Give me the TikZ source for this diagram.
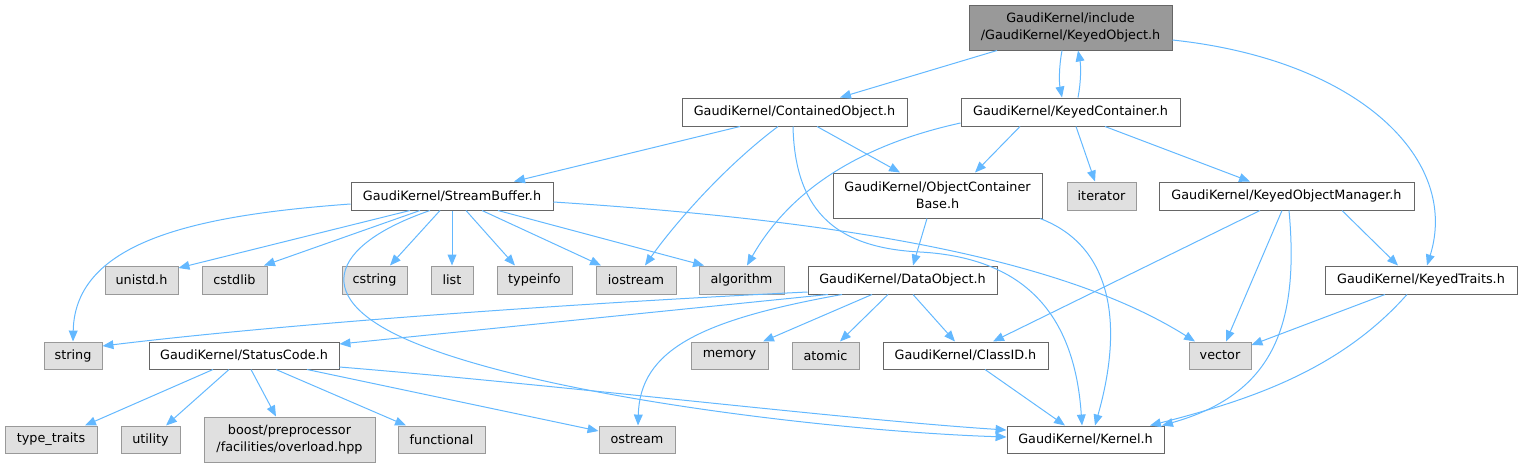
\documentclass[tikz,border=0pt]{standalone}
\usepackage{fontspec}
\setmainfont{DejaVu Sans}
\usetikzlibrary{arrows.meta,calc}
\definecolor{cA}{HTML}{666666}
\definecolor{cB}{HTML}{999999}
\definecolor{cE}{HTML}{E0E0E0}
\definecolor{eblue}{HTML}{63B8FF}
\tikzset{
 nd/.style={draw=cA, fill=white, line width=0.75pt, inner sep=0pt, align=center, font=\fontsize{9.6}{12.5}\selectfont},
 ext/.style={nd, draw=cB, fill=cE},
 mainnd/.style={nd, fill=cB, draw=cA},
 sz/.style 2 args={minimum width=#1*0.75pt, minimum height=#2*0.75pt},
 edg/.style={draw=eblue, line width=0.75pt, -{Triangle[length=8.2pt,width=6.6pt]}},
}
\begin{document}
\begin{tikzpicture}[x=0.75pt,y=-0.75pt]
\useasboundingbox (0,0) rectangle (1523,468);
% nodes
\node[mainnd, sz={203}{45}] (ko) at (1070.5,27.5) {GaudiKernel/include\\/GaudiKernel/KeyedObject.h};
\node[nd, sz={225}{28}] (co) at (794.5,112) {GaudiKernel/ContainedObject.h};
\node[nd, sz={219}{28}] (kc) at (1070.5,112) {GaudiKernel/KeyedContainer.h};
\node[nd, sz={202}{28}] (sb) at (452,196) {GaudiKernel/StreamBuffer.h};
\node[nd, sz={209}{45}] (ocb) at (937.5,195.5) {GaudiKernel/ObjectContainer\\Base.h};
\node[ext, sz={69}{28}] (iter) at (1101.5,196) {iterator};
\node[nd, sz={255}{28}] (kom) at (1286.5,196) {GaudiKernel/KeyedObjectManager.h};
\node[ext, sz={73}{28}] (unistd) at (141.5,280) {unistd.h};
\node[ext, sz={65}{28}] (cstdlib) at (234.5,280) {cstdlib};
\node[ext, sz={65}{28}] (cstring) at (374.5,280) {cstring};
\node[ext, sz={42}{28}] (list) at (452,280) {list};
\node[ext, sz={75}{28}] (typeinfo) at (534.5,280) {typeinfo};
\node[ext, sz={80}{28}] (iostream) at (636,280) {iostream};
\node[ext, sz={85}{28}] (algorithm) at (741.5,280) {algorithm};
\node[nd, sz={189}{28}] (dobj) at (902.5,280) {GaudiKernel/DataObject.h};
\node[nd, sz={192}{28}] (ktraits) at (1421,280) {GaudiKernel/KeyedTraits.h};
\node[ext, sz={58}{27}] (string) at (73,355.5) {string};
\node[nd, sz={190}{27}] (sc) at (244,355.5) {GaudiKernel/StatusCode.h};
\node[ext, sz={77}{27}] (memory) at (729.5,355.5) {memory};
\node[ext, sz={67}{27}] (atomic) at (825.5,355.5) {atomic};
\node[nd, sz={165}{27}] (classid) at (965.5,355.5) {GaudiKernel/ClassID.h};
\node[ext, sz={62}{27}] (vector) at (1220,355.5) {vector};
\node[ext, sz={92}{27}] (typetraits) at (51,439.5) {type\_traits};
\node[ext, sz={59}{27}] (utility) at (150.5,439.5) {utility};
\node[ext, sz={171}{45}] (boost) at (289.5,439.5) {boost/preprocessor\\/facilities/overload.hpp};
\node[ext, sz={87}{27}] (functional) at (441.5,439.5) {functional};
\node[ext, sz={76}{27}] (ostream) at (637,439.5) {ostream};
\node[nd, sz={157}{27}] (kernel) at (1085.5,439.5) {GaudiKernel/Kernel.h};
% edges from KeyedObject
\draw[edg] (ko.south -| 997,0) -- (co.north -| 840,0);
\draw[edg] (ko.south -| 1062,0) .. controls (1059,66) and (1059,82) .. (kc.north -| 1062,0);
\draw[edg] (kc.north -| 1078,0) .. controls (1081,82) and (1081,66) .. (ko.south -| 1078,0);
\draw[edg] (ko.east |- 0,40) .. controls (1360,60) and (1460,160) .. (ktraits.north -| 1427,0);
% ContainedObject
\draw[edg] (co.south -| 740,0) -- (sb.north -| 514,0);
\draw[edg] (co.south -| 778,0) .. controls (720,170) and (670,230) .. (iostream.north -| 645,0);
\draw[edg] (co.south -| 793,0) .. controls (795,215) and (840,248) .. (920,252) .. controls (1030,258) and (1075,320) .. (kernel.north -| 1082,0);
\draw[edg] (co.south -| 817,0) -- (ocb.north -| 900,0);
% KeyedContainer
\draw[edg] (kc.west |- 0,123) .. controls (860,145) and (790,190) .. (algorithm.north -| 747,0);
\draw[edg] (kc.south -| 1020,0) -- (ocb.north -| 975,0);
\draw[edg] (kc.south -| 1076,0) -- (iter.north -| 1095,0);
\draw[edg] (kc.south -| 1105,0) -- (kom.north -| 1250,0);
% StreamBuffer
\draw[edg] (sb.west |- 0,204) .. controls (200,215) and (75,240) .. (string.north -| 73,0);
\draw[edg] (sb.south -| 410,0) -- (unistd.east |- 0,268);
\draw[edg] (sb.south -| 420,0) -- (cstdlib.north -| 264,0);
\draw[edg] (sb.south -| 430,0) .. controls (330,245) and (305,300) .. (420,345) .. controls (560,400) and (850,432) .. (kernel.west |- 0,437);
\draw[edg] (sb.south -| 440,0) -- (cstring.north -| 390,0);
\draw[edg] (sb.south -| 452,0) -- (list.north -| 452,0);
\draw[edg] (sb.south -| 466,0) -- (typeinfo.north -| 515,0);
\draw[edg] (sb.south -| 482,0) -- (iostream.north -| 601,0);
\draw[edg] (sb.south -| 498,0) -- (algorithm.north -| 704,0);
\draw[edg] (sb.east |- 0,202) .. controls (800,218) and (1050,250) .. (vector.north -| 1195,0);
% ObjectContainerBase
\draw[edg] (ocb.south -| 927,0) -- (dobj.north -| 913,0);
\draw[edg] (ocb.south -| 1040,0) .. controls (1110,245) and (1125,320) .. (kernel.north -| 1095,0);
% KeyedObjectManager
\draw[edg] (kom.south -| 1260,0) -- (classid.north -| 993,0);
\draw[edg] (kom.south -| 1282,0) -- (vector.north -| 1226,0);
\draw[edg] (kom.south -| 1289,0) .. controls (1300,330) and (1270,395) .. (kernel.north -| 1162,0);
\draw[edg] (kom.south -| 1342,0) -- (ktraits.north -| 1398,0);
% KeyedTraits
\draw[edg] (ktraits.south -| 1385,0) -- (vector.east |- 0,345);
\draw[edg] (ktraits.south -| 1407,0) .. controls (1340,370) and (1250,400) .. (kernel.north -| 1150,0);
% DataObject
\draw[edg] (dobj.west |- 0,292) .. controls (600,302) and (300,322) .. (string.east |- 0,346);
\draw[edg] (dobj.south -| 828,0) -- (sc.east |- 0,344);
\draw[edg] (dobj.south -| 842,0) .. controls (700,320) and (640,350) .. (ostream.north -| 638,0);
\draw[edg] (dobj.south -| 872,0) -- (memory.north -| 763,0);
\draw[edg] (dobj.south -| 888,0) -- (atomic.north -| 840,0);
\draw[edg] (dobj.south -| 913,0) -- (classid.north -| 955,0);
% StatusCode
\draw[edg] (sc.south -| 213,0) -- (typetraits.north -| 85,0);
\draw[edg] (sc.south -| 229,0) -- (utility.north -| 166,0);
\draw[edg] (sc.south -| 251,0) -- (boost.north -| 276,0);
\draw[edg] (sc.south -| 276,0) -- (functional.north -| 406,0);
\draw[edg] (sc.south -| 307,0) -- (ostream.west |- 0,431);
\draw[edg] (sc.east |- 0,367) .. controls (560,385) and (850,420) .. (kernel.west |- 0,430);
% ClassID
\draw[edg] (classid.south -| 985,0) -- (kernel.north -| 1065,0);
\end{tikzpicture}
\end{document}
